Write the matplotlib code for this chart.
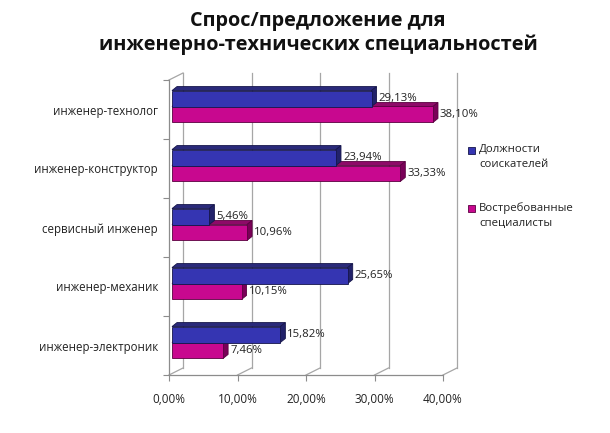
import matplotlib
matplotlib.use('Agg')
import matplotlib.pyplot as plt
from matplotlib.patches import Polygon, Rectangle

# data
categories = ['инженер-технолог', 'инженер-конструктор', 'сервисный инженер',
              'инженер-механик', 'инженер-электроник']
seekers = [29.13, 23.94, 5.46, 25.65, 15.82]      # Должности соискателей
demand = [38.10, 33.33, 10.96, 10.15, 7.46]       # Востребованные специалисты
series_names = ['Должности\nсоискателей', 'Востребованные\nспециалисты']
xticks = [0, 10, 20, 30, 40]

W, H = 610, 433
plt.rcParams['font.family'] = ['Open Sans', 'DejaVu Sans']

fig = plt.figure(figsize=(W / 100, H / 100), dpi=100)
# front plane of the pseudo 3d box, in pixels: x 169..443, y 80..375
ax = fig.add_axes([169 / W, 1 - 375 / H, 274 / W, 295 / H])
xmin, xmax, ymin, ymax = 0, 40, 0, 5
ax.set_xlim(xmin, xmax)
ax.set_ylim(ymin, ymax)

# pixel -> data unit factors
px_x = (xmax - xmin) / 274.0
px_y = (ymax - ymin) / 295.0

grid_c = '#a6a6a6'
# back wall offset
bx, by = 14 * px_x, 7 * px_y
for t in xticks:
    ax.plot([t + bx, t + bx], [ymin + by, ymax + by], color=grid_c, lw=0.9,
            clip_on=False, zorder=1)
    ax.plot([t, t + bx], [ymin, ymin + by], color=grid_c, lw=0.9,
            clip_on=False, zorder=1)
ax.plot([0, bx], [ymax, ymax + by], color=grid_c, lw=0.9, clip_on=False, zorder=1)

# bars with a small 3d look
n = len(categories)
bh = 0.27
ox, oy = 3 * px_x, 3 * px_y     # bars sit a bit into the depth
dx, dy = 5 * px_x, 4 * px_y     # bar depth


def bar3d(x1, y0, y1, front, top, side, edge):
    x0 = ox
    x1 += ox
    y0 += oy
    y1 += oy
    ax.add_patch(Polygon([(x0, y1), (x1, y1), (x1 + dx, y1 + dy), (x0 + dx, y1 + dy)],
                         closed=True, fc=top, ec=edge, lw=0.6, zorder=3, clip_on=False))
    ax.add_patch(Polygon([(x1, y0), (x1 + dx, y0 + dy), (x1 + dx, y1 + dy), (x1, y1)],
                         closed=True, fc=side, ec=edge, lw=0.6, zorder=3, clip_on=False))
    ax.add_patch(Rectangle((x0, y0), x1 - x0, y1 - y0, fc=front, ec=edge, lw=0.6,
                           zorder=3, clip_on=False))


def pct(v):
    return ('%.2f%%' % v).replace('.', ',')


for i in range(n):
    c = n - 1 - i + 0.5
    # pink under the blue one
    bar3d(demand[i], c - bh, c, '#c8088f', '#8e0a68', '#7a0058', '#5a0040')
    bar3d(seekers[i], c, c + bh, '#3535b2', '#2a2a7a', '#22226a', '#15154a')
    ax.text(seekers[i] + ox + dx + 2 * px_x, c + bh / 2 + oy, pct(seekers[i]),
            ha='left', va='center', fontsize=8.2, color='#222222', zorder=5)
    ax.text(demand[i] + ox + dx + 2 * px_x, c - bh / 2 + oy, pct(demand[i]),
            ha='left', va='center', fontsize=8.2, color='#222222', zorder=5)

# axes
for s in ['top', 'right']:
    ax.spines[s].set_visible(False)
for s in ['left', 'bottom']:
    ax.spines[s].set_color('#8c8c8c')
    ax.spines[s].set_linewidth(0.9)
ax.set_xticks(xticks)
ax.set_xticklabels(['%d,00%%' % t for t in xticks])
ax.set_yticks(range(n + 1))
ax.set_yticklabels([])
ax.set_yticks([n - 1 - i + 0.5 for i in range(n)], minor=True)
ax.set_yticklabels(categories, minor=True)
ax.tick_params(axis='y', which='minor', length=0, pad=8, labelsize=8.3, labelcolor='#222222')
ax.tick_params(axis='y', which='major', length=4, color='#8c8c8c', direction='out')
ax.tick_params(axis='x', length=4, color='#8c8c8c', pad=9, labelsize=8.5,
               labelcolor='#222222')
ax.patch.set_visible(False)

# title
fig.text(318 / W, 1 - 33 / H, 'Спрос/предложение для\nинженерно-технических специальностей',
         ha='center', va='center', fontsize=14.3, fontweight='bold', linespacing=1.25,
         multialignment='center', color='#111111')

# legend, drawn by hand so the square sits on the first line
leg_colors = ['#3535b2', '#c8088f']
leg_edges = ['#15154a', '#5a0040']
leg_y = [150, 208]
for name, col, ec, ly in zip(series_names, leg_colors, leg_edges, leg_y):
    fig.patches.append(Rectangle((468 / W, 1 - (ly + 4) / H), 7 / W, 7 / H,
                                 transform=fig.transFigure, fc=col, ec=ec, lw=0.6))
    fig.text(479 / W, 1 - (ly - 6) / H, name, ha='left', va='top', fontsize=8.2,
             color='#222222', linespacing=1.5)

fig.savefig('out.png', dpi=100, facecolor='white')
